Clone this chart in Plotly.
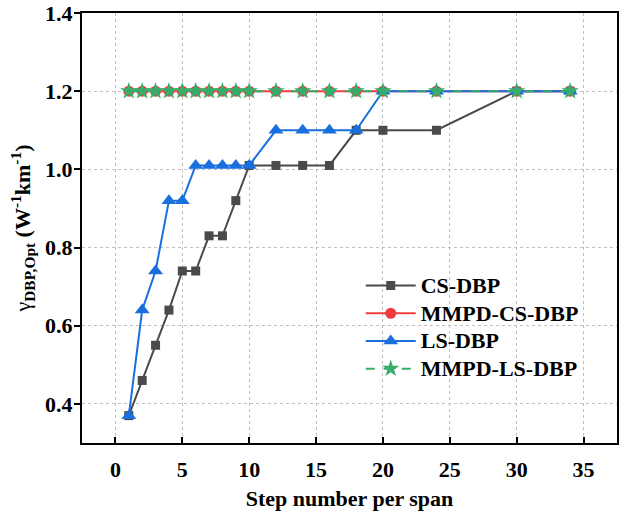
import plotly.graph_objects as go

steps = [1, 2, 3, 4, 5, 6, 7, 8, 9, 10, 12, 14, 16, 18, 20, 24, 30, 34]
cs_dbp = [0.37, 0.46, 0.55, 0.64, 0.74, 0.74, 0.83, 0.83, 0.92, 1.01, 1.01, 1.01, 1.01, 1.10, 1.10, 1.10, 1.20, 1.20]
mmpd_cs_dbp = [1.20] * 18
ls_dbp = [0.37, 0.64, 0.74, 0.92, 0.92, 1.01, 1.01, 1.01, 1.01, 1.01, 1.10, 1.10, 1.10, 1.10, 1.20, 1.20, 1.20, 1.20]
mmpd_ls_dbp = [1.20] * 18

series_names = ["CS-DBP", "MMPD-CS-DBP", "LS-DBP", "MMPD-LS-DBP"]
x_ticks = [0, 5, 10, 15, 20, 25, 30, 35]
y_ticks = [0.4, 0.6, 0.8, 1.0, 1.2, 1.4]

FONT = "Liberation Serif"
FS = 22


def lname(s):
    return f'<span style="font-size:{FS}px"><b>{s}</b></span>'


fig = go.Figure()
fig.add_trace(go.Scatter(x=steps, y=cs_dbp, name=lname(series_names[0]), mode="lines+markers",
                         line=dict(color="#4a4a4a", width=2),
                         marker=dict(symbol="square", size=9, color="#4a4a4a")))
fig.add_trace(go.Scatter(x=steps, y=mmpd_cs_dbp, name=lname(series_names[1]), mode="lines+markers",
                         line=dict(color="#f03c3c", width=2),
                         marker=dict(symbol="circle", size=11, color="#f03c3c")))
fig.add_trace(go.Scatter(x=steps, y=ls_dbp, name=lname(series_names[2]), mode="lines+markers",
                         line=dict(color="#1a6fdf", width=2),
                         marker=dict(symbol="triangle-up", size=13, color="#1a6fdf")))
fig.add_trace(go.Scatter(x=steps, y=mmpd_ls_dbp, name=lname(series_names[3]), mode="lines+markers",
                         line=dict(color="#37ad6b", width=2, dash="dash"),
                         marker=dict(symbol="star", size=13, color="#37ad6b")))

axis_common = dict(
    showline=True, linecolor="black", linewidth=2, mirror=True,
    showgrid=True, gridcolor="#c0c0c0", griddash="dot", gridwidth=1,
    zeroline=False, ticklen=6, tickwidth=2, tickcolor="black",
    tickfont=dict(family=FONT, size=FS, color="black"),
    automargin=False, ticklabeloverflow="allow",
)

fig.update_xaxes(range=[-2.5, 37.5], tickvals=x_ticks, ticktext=[f"<b>{v}</b>" for v in x_ticks],
                 ticks="inside", ticklabelstandoff=6,
                 title=dict(text="<b>Step number per span</b>", font=dict(family=FONT, size=FS, color="black"), standoff=9),
                 **axis_common)
fig.update_yaxes(range=[0.3, 1.4], tickvals=y_ticks, ticktext=[f"<b>{v:.1f}</b>" for v in y_ticks],
                 ticks="outside", ticklabelstandoff=-3,
                 title=dict(text="γ<sub><b>DBP,Opt</b></sub><b> (W<sup>-1</sup>km<sup>-1</sup>)</b>",
                            font=dict(family=FONT, size=FS, color="black"), standoff=8),
                 **axis_common)

fig.update_layout(
    width=626, height=517,
    margin=dict(l=82, r=9, t=13, b=74, autoexpand=False),
    plot_bgcolor="white", paper_bgcolor="white",
    font=dict(family=FONT, color="black"),
    legend=dict(x=0.521, y=0.41, xanchor="left", yanchor="top",
                bgcolor="rgba(0,0,0,0)", borderwidth=0,
                font=dict(family=FONT, size=19, color="black"),
                itemwidth=50, tracegroupgap=0),
    showlegend=True,
)

# remove the default page margin so the figure fills the 626x517 window exactly
fig.write_html("out.html",
               config={"displayModeBar": False},
               post_script="document.body.style.margin='0';document.body.style.overflow='hidden';")
